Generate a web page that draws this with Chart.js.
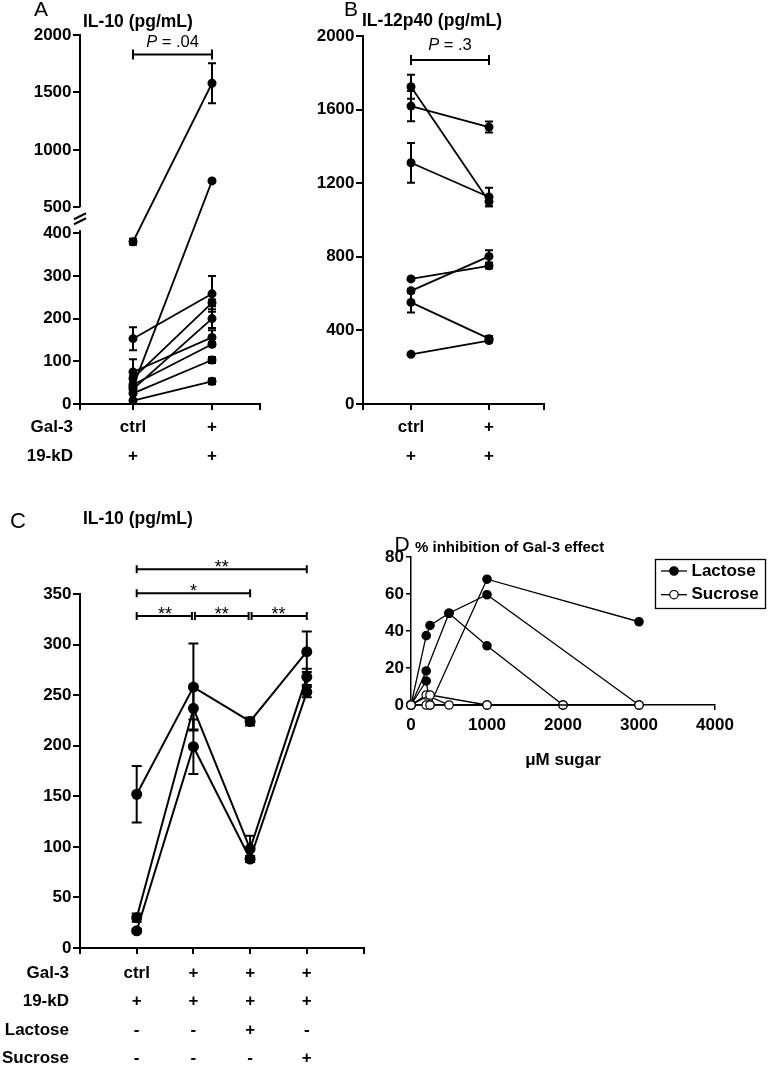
<!DOCTYPE html>
<html>
<head>
<meta charset="utf-8">
<script src="https://cdn.jsdelivr.net/npm/chart.js@4/dist/chart.umd.min.js"></script>
<style>
html, body { margin: 0; padding: 0; background: #fff; }
body { width: 772px; height: 1066px; position: relative; overflow: hidden; }
canvas { position: absolute; }
</style>
</head>
<body>
<canvas id="cA" width="300" height="480" style="left:0px;top:0px"></canvas>
<canvas id="cB" width="300" height="480" style="left:300px;top:0px"></canvas>
<canvas id="cC" width="390" height="576" style="left:0px;top:490px"></canvas>
<canvas id="cD" width="392" height="250" style="left:380px;top:530px"></canvas>
<script>
// ================= DATA =================
// Panel A: IL-10 (pg/mL), paired donors, ctrl vs Gal-3
const aPositions = [1, 2];
const aGal3Row = ['ctrl', '+'];
const a19kDRow = ['+', '+'];
const aRowNames = ['Gal-3', '19-kD'];
const aCtrl    = [380, 153, 40, 60, 35, 75, 45, 25, 8];
const aGal3    = [1580, 258, 730, 237, 200, 156, 140, 103, 53];
const aCtrlErr = [7, 27, 5, 5, 4, 30, 4, 4, 3];
const aGal3Err = [175, 42, 12, 8, 22, 17, 5, 7, 7];
const aYTicks  = [0, 100, 200, 300, 400, 500, 1000, 1500, 2000];
const aBreakLow = 400, aBreakHigh = 500;
const aPValue = '.04';

// Panel B: IL-12p40 (pg/mL)
const bPositions = [1, 2];
const bGal3Row = ['ctrl', '+'];
const b19kDRow = ['+', '+'];
const bCtrl    = [1724, 1619, 1311, 680, 615, 552, 270];
const bGal3    = [1100, 1505, 1125, 751, 802, 355, 345];
const bCtrlErr = [65, 82, 108, 8, 12, 55, 6];
const bGal3Err = [25, 30, 50, 15, 33, 15, 10];
const bYTicks  = [0, 400, 800, 1200, 1600, 2000];
const bPValue = '.3';

// Panel C: IL-10 (pg/mL), 4 conditions
const cPositions = [1, 2, 3, 4];
const cGal3Row    = ['ctrl', '+', '+', '+'];
const c19kDRow    = ['+', '+', '+', '+'];
const cLactoseRow = ['-', '-', '+', '-'];
const cSucroseRow = ['-', '-', '-', '+'];
const cRowNames = ['Gal-3', '19-kD', 'Lactose', 'Sucrose'];
const cCtrl    = [152, 30, 17];
const cGal3    = [258, 237, 199];
const cLactose = [224, 98, 88];
const cSucrose = [293, 268, 253];
const cCtrlErr    = [28, 4, 2];
const cGal3Err    = [43, 21, 27];
const cLactoseErr = [4, 13, 3];
const cSucroseErr = [20, 8, 5];
const cYTicks = [0, 50, 100, 150, 200, 250, 300, 350];
const cSigFrom = [1, 2, 3, 1, 1];
const cSigTo   = [2, 3, 4, 3, 4];
const cSigText = ['**', '**', '**', '*', '**'];
const cSigRow  = [0, 0, 0, 1, 2];

// Panel D: % inhibition of Gal-3 effect vs uM sugar
const dLac1X = [0, 200, 250, 500, 1000, 2000];
const dLac1Y = [0, 37.5, 43, 49.6, 32, 0];
const dLac2X = [0, 200, 500, 1000, 3000];
const dLac2Y = [0, 18.4, 49.6, 59.6, 0];
const dLac3X = [0, 200, 250, 1000, 3000];
const dLac3Y = [0, 13, 0, 68, 45];
const dSuc1X = [0, 250, 1000];
const dSuc1Y = [0, 5.4, 0];
const dSuc2X = [0, 200, 500, 3000];
const dSuc2Y = [0, 5.4, 0, 0];
const dSuc3X = [0, 200, 250, 1000, 2000];
const dSuc3Y = [0, 0, 0, 0, 0];
const dXTicks = [0, 1000, 2000, 3000, 4000];
const dYTicks = [0, 20, 40, 60, 80];
const dLegend = ['Lactose', 'Sucrose'];

// ================= HELPERS =================
const FONT = "'Liberation Sans', Arial, Helvetica, sans-serif";
Chart.defaults.font.family = FONT;
Chart.defaults.color = '#000';

// broken y scale for panel A (gap between 400 and 500)
const A_LOW_FRAC = (404 - 233.2) / 369;
const A_HIGH_FRAC = (404 - 207.3) / 369;
class BrokenLinearScale extends Chart.LinearScale {
  _dec(v) {
    if (v <= aBreakLow) return (v - this.min) / (aBreakLow - this.min) * A_LOW_FRAC;
    if (v >= aBreakHigh) return A_HIGH_FRAC + (v - aBreakHigh) / (this.max - aBreakHigh) * (1 - A_HIGH_FRAC);
    return A_LOW_FRAC + (v - aBreakLow) / (aBreakHigh - aBreakLow) * (A_HIGH_FRAC - A_LOW_FRAC);
  }
  getPixelForValue(v) {
    if (v === null || v === undefined || isNaN(v)) return NaN;
    return this.getPixelForDecimal(this._dec(v));
  }
  getValueForPixel(p) {
    const d = this.getDecimalForPixel(p);
    if (d <= A_LOW_FRAC) return this.min + d / A_LOW_FRAC * (aBreakLow - this.min);
    if (d >= A_HIGH_FRAC) return aBreakHigh + (d - A_HIGH_FRAC) / (1 - A_HIGH_FRAC) * (this.max - aBreakHigh);
    return aBreakLow + (d - A_LOW_FRAC) / (A_HIGH_FRAC - A_LOW_FRAC) * (aBreakHigh - aBreakLow);
  }
}
BrokenLinearScale.id = 'brokenLinear';
BrokenLinearScale.defaults = Chart.LinearScale.defaults;
Chart.register(BrokenLinearScale);

function tableLabels(rows) {
  return rows[0].map((_, j) => rows.map(r => r[j]));
}

function xAxis(min, max, positions, rows, o) {
  const labels = [''].concat(tableLabels(rows)).concat(['']);
  const vals = [min].concat(positions).concat([max]);
  return {
    type: 'linear', min: min, max: max,
    afterBuildTicks: s => { s.ticks = vals.map(v => ({ value: v })); },
    afterFit: s => { s.height = o.height; },
    ticks: {
      autoSkip: false, maxRotation: 0, minRotation: 0, padding: o.pad, color: '#000',
      font: { family: FONT, size: 17, weight: 'bold', lineHeight: o.lh + 'px' },
      callback: (v, i) => labels[i]
    },
    grid: { drawOnChartArea: false, drawTicks: true, tickLength: o.tl, color: '#000', lineWidth: 2 },
    border: { display: true, color: '#000', width: 2 }
  };
}

function yAxis(type, min, max, tickVals, width, tl, showBorder) {
  return {
    type: type, min: min, max: max,
    afterBuildTicks: s => { s.ticks = tickVals.map(v => ({ value: v })); },
    afterFit: s => { s.width = width; },
    ticks: { autoSkip: false, padding: 1.5, color: '#000',
      font: { family: FONT, size: 17, weight: 'bold' },
      callback: v => String(v) },
    grid: { drawOnChartArea: false, drawTicks: true, tickLength: tl, color: '#000', lineWidth: 2 },
    border: { display: showBorder, color: '#000', width: 2 }
  };
}

function errorBars(errs, capHalf, lw) {
  return {
    id: 'errorBars',
    beforeDatasetsDraw(chart) {
      const ctx = chart.ctx, ys = chart.scales.y;
      ctx.save();
      ctx.strokeStyle = '#000'; ctx.lineWidth = lw;
      chart.data.datasets.forEach((ds, i) => {
        const meta = chart.getDatasetMeta(i);
        ds.data.forEach((pt, j) => {
          const e = errs[i] ? errs[i][j] : 0;
          if (!e) return;
          const x = meta.data[j].x;
          const yt = ys.getPixelForValue(pt.y + e), yb = ys.getPixelForValue(pt.y - e);
          ctx.beginPath();
          ctx.moveTo(x, yt); ctx.lineTo(x, yb);
          ctx.moveTo(x - capHalf, yt); ctx.lineTo(x + capHalf, yt);
          ctx.moveTo(x - capHalf, yb); ctx.lineTo(x + capHalf, yb);
          ctx.stroke();
        });
      });
      ctx.restore();
    }
  };
}

function annotations(fn) {
  return { id: 'annotations', afterDraw(chart) { const c = chart.ctx; c.save(); fn(chart, c); c.restore(); } };
}

function txt(ctx, s, x, y, size, weight, align, style) {
  ctx.font = (style || 'normal') + ' ' + (weight || 'normal') + ' ' + size + 'px ' + FONT;
  ctx.fillStyle = '#000';
  ctx.textAlign = align || 'left';
  ctx.textBaseline = 'middle';
  ctx.fillText(s, x, y);
}

function bracket(ctx, x1, x2, y, h, lw) {
  ctx.strokeStyle = '#000'; ctx.lineWidth = lw;
  ctx.beginPath();
  ctx.moveTo(x1, y); ctx.lineTo(x2, y);
  ctx.moveTo(x1, y - h); ctx.lineTo(x1, y + h);
  ctx.moveTo(x2, y - h); ctx.lineTo(x2, y + h);
  ctx.stroke();
}

function pText(ctx, value, cx, y) {
  const size = 16.5;
  ctx.font = 'italic normal ' + size + 'px ' + FONT;
  const w1 = ctx.measureText('P').width;
  const rest = ' = ' + value;
  ctx.font = 'normal normal ' + size + 'px ' + FONT;
  const w2 = ctx.measureText(rest).width;
  const x0 = cx - (w1 + w2) / 2;
  txt(ctx, 'P', x0, y, size, 'normal', 'left', 'italic');
  txt(ctx, rest, x0 + w1, y, size, 'normal', 'left', 'normal');
}

function rowLabels(ctx, xs, names, xRight, tl, pad, lh) {
  names.forEach((n, i) => {
    txt(ctx, n, xRight, xs.top + tl + pad + lh * (i + 0.5), 17, 'bold', 'right');
  });
}

const common = {
  responsive: false, animation: false, devicePixelRatio: 1, events: [],
  plugins: { legend: { display: false }, tooltip: { enabled: false }, title: { display: false } }
};

function pairLine(pts, r, lw) {
  return { data: pts, borderColor: '#000', borderWidth: lw, pointRadius: r,
    pointBackgroundColor: '#000', pointBorderColor: '#000', pointBorderWidth: 0,
    tension: 0, clip: false, fill: false };
}

// ================= PANEL A =================
const A_XMIN = 1 - 53 / 79, A_XMAX = 2 + 48 / 79;
new Chart(document.getElementById('cA'), {
  type: 'line',
  data: { datasets: aCtrl.map((v, i) => pairLine([{ x: aPositions[0], y: v }, { x: aPositions[1], y: aGal3[i] }], 4.5, 1.8)) },
  options: Object.assign({}, common, {
    layout: { padding: { top: 35, right: 40, bottom: 0, left: 0 }, autoPadding: false },
    scales: {
      x: xAxis(A_XMIN, A_XMAX, aPositions, [aGal3Row, a19kDRow], { height: 76, pad: 2.5, lh: 29, tl: 6 }),
      y: yAxis('brokenLinear', 0, 2000, aYTicks, 80, 7, false)
    }
  }),
  plugins: [
    errorBars(aCtrl.map((v, i) => [aCtrlErr[i], aGal3Err[i]]), 4, 2),
    annotations((chart, ctx) => {
      const ys = chart.scales.y, xs = chart.scales.x, L = chart.chartArea.left;
      ctx.strokeStyle = '#000'; ctx.lineWidth = 2;
      ctx.beginPath();
      ctx.moveTo(L, ys.getPixelForValue(0) + 1); ctx.lineTo(L, ys.getPixelForValue(aBreakLow) - 3);
      ctx.moveTo(L, ys.getPixelForValue(aBreakHigh)); ctx.lineTo(L, ys.getPixelForValue(2000) - 1);
      ctx.stroke();
      const yb = (ys.getPixelForValue(aBreakLow) + ys.getPixelForValue(aBreakHigh)) / 2;
      ctx.lineWidth = 2;
      ctx.beginPath();
      ctx.moveTo(L - 6, yb - 1); ctx.lineTo(L + 6, yb - 7);
      ctx.moveTo(L - 6, yb + 4); ctx.lineTo(L + 6, yb - 2);
      ctx.stroke();
      txt(ctx, 'A', 41, 10, 21, 'normal', 'center');
      txt(ctx, 'IL-10 (pg/mL)', 83, 22, 17.5, 'bold', 'left');
      const x1 = xs.getPixelForValue(aPositions[0]), x2 = xs.getPixelForValue(aPositions[1]);
      bracket(ctx, x1, x2, 54.5, 5, 2);
      pText(ctx, aPValue, (x1 + x2) / 2, 42.5);
      rowLabels(ctx, xs, aRowNames, 73, 6, 2.5, 29);
    })
  ]
});

// ================= PANEL B =================
const B_XMIN = 1 - 48 / 78, B_XMAX = 2 + 55 / 78;
new Chart(document.getElementById('cB'), {
  type: 'line',
  data: { datasets: bCtrl.map((v, i) => pairLine([{ x: bPositions[0], y: v }, { x: bPositions[1], y: bGal3[i] }], 4.5, 1.8)) },
  options: Object.assign({}, common, {
    layout: { padding: { top: 36, right: 56, bottom: 0, left: 0 }, autoPadding: false },
    scales: {
      x: xAxis(B_XMIN, B_XMAX, bPositions, [bGal3Row, b19kDRow], { height: 76, pad: 2.5, lh: 29, tl: 6 }),
      y: yAxis('linear', 0, 2000, bYTicks, 63, 7, true)
    }
  }),
  plugins: [
    errorBars(bCtrl.map((v, i) => [bCtrlErr[i], bGal3Err[i]]), 4, 2),
    annotations((chart, ctx) => {
      const xs = chart.scales.x;
      txt(ctx, 'B', 51, 10, 21, 'normal', 'center');
      txt(ctx, 'IL-12p40 (pg/mL)', 62, 21, 17.5, 'bold', 'left');
      const x1 = xs.getPixelForValue(bPositions[0]), x2 = xs.getPixelForValue(bPositions[1]);
      bracket(ctx, x1, x2, 60, 5, 2);
      pText(ctx, bPValue, (x1 + x2) / 2, 45.5);
    })
  ]
});

// ================= PANEL C =================
new Chart(document.getElementById('cC'), {
  type: 'line',
  data: { datasets: cCtrl.map((v, i) => pairLine([
    { x: cPositions[0], y: v }, { x: cPositions[1], y: cGal3[i] },
    { x: cPositions[2], y: cLactose[i] }, { x: cPositions[3], y: cSucrose[i] }], 5.5, 2)) },
  options: Object.assign({}, common, {
    layout: { padding: { top: 104, right: 26.5, bottom: 0, left: 0 }, autoPadding: false },
    scales: {
      x: xAxis(0, 5, cPositions, [cGal3Row, c19kDRow, cLactoseRow, cSucroseRow], { height: 118, pad: 4.7, lh: 28.6, tl: 6 }),
      y: yAxis('linear', 0, 350, cYTicks, 80, 7, true)
    }
  }),
  plugins: [
    errorBars(cCtrl.map((v, i) => [cCtrlErr[i], cGal3Err[i], cLactoseErr[i], cSucroseErr[i]]), 5, 2),
    annotations((chart, ctx) => {
      const xs = chart.scales.x;
      txt(ctx, 'C', 18, 32, 22, 'normal', 'center');
      txt(ctx, 'IL-10 (pg/mL)', 83, 29, 17.5, 'bold', 'left');
      const rowY = [126, 103.3, 79.3];
      cSigFrom.forEach((f, k) => {
        const x1 = xs.getPixelForValue(f), x2 = xs.getPixelForValue(cSigTo[k]);
        const inset = cSigRow[k] === 0 ? 1.5 : 0;
        const y = rowY[cSigRow[k]];
        bracket(ctx, x1 + (f === 1 ? 0 : inset), x2 - (cSigTo[k] === 4 ? 0 : inset), y, 4, 2);
        ctx.font = 'normal normal 18px ' + FONT;
        ctx.textAlign = 'center'; ctx.textBaseline = 'alphabetic'; ctx.fillStyle = '#000';
        ctx.fillText(cSigText[k], (x1 + x2) / 2, y + 4);
      });
      rowLabels(ctx, xs, cRowNames, 69, 6, 4.7, 28.6);
    })
  ]
});

// ================= PANEL D =================
function xyPts(xs, ys) { return xs.map((x, i) => ({ x: x, y: ys[i] })); }
function dLine(pts, open) {
  return { data: pts, borderColor: '#000', borderWidth: 1.3, pointRadius: 4.2,
    pointBackgroundColor: open ? '#fff' : '#000', pointBorderColor: '#000', pointBorderWidth: 1.2,
    tension: 0, clip: false, fill: false };
}
new Chart(document.getElementById('cD'), {
  type: 'line',
  data: { datasets: [
    dLine(xyPts(dSuc1X, dSuc1Y), true),
    dLine(xyPts(dSuc2X, dSuc2Y), true),
    dLine(xyPts(dSuc3X, dSuc3Y), true),
    dLine(xyPts(dLac1X, dLac1Y), false),
    dLine(xyPts(dLac2X, dLac2Y), false),
    dLine(xyPts(dLac3X, dLac3Y), false)
  ] },
  options: Object.assign({}, common, {
    layout: { padding: { top: 27, right: 57, bottom: 0, left: 0 }, autoPadding: false },
    scales: {
      x: {
        type: 'linear', min: 0, max: 4000,
        afterBuildTicks: s => { s.ticks = dXTicks.map(v => ({ value: v })); },
        afterFit: s => { s.height = 75; },
        ticks: { autoSkip: false, maxRotation: 0, padding: 5, color: '#000',
          font: { family: FONT, size: 17, weight: 'bold' }, callback: v => String(v) },
        grid: { drawOnChartArea: false, drawTicks: true, tickLength: 5, color: '#000', lineWidth: 1.5 },
        border: { display: true, color: '#000', width: 1.5 }
      },
      y: {
        type: 'linear', min: 0, max: 80,
        afterBuildTicks: s => { s.ticks = dYTicks.map(v => ({ value: v })); },
        afterFit: s => { s.width = 31; },
        ticks: { autoSkip: false, padding: 2, color: '#000',
          font: { family: FONT, size: 17, weight: 'bold' }, callback: v => String(v) },
        grid: { drawOnChartArea: false, drawTicks: true, tickLength: 5, color: '#000', lineWidth: 1.5 },
        border: { display: true, color: '#000', width: 1.5 }
      }
    }
  }),
  plugins: [
    annotations((chart, ctx) => {
      const ca = chart.chartArea;
      txt(ctx, 'D', 22, 15, 21, 'normal', 'center');
      txt(ctx, '% inhibition of Gal-3 effect', 35, 18, 15, 'bold', 'left');
      txt(ctx, '\u03bcM sugar', (ca.left + ca.right) / 2, 230, 17, 'bold', 'center');
      // legend
      ctx.strokeStyle = '#000'; ctx.lineWidth = 1.3;
      ctx.strokeRect(275.5, 29.5, 110, 49);
      const ly = [41, 64.7];
      dLegend.forEach((name, i) => {
        ctx.strokeStyle = '#000'; ctx.lineWidth = 1.3;
        ctx.beginPath(); ctx.moveTo(281, ly[i]); ctx.lineTo(307, ly[i]); ctx.stroke();
        ctx.beginPath(); ctx.arc(294, ly[i], 4.2, 0, Math.PI * 2);
        ctx.fillStyle = i === 0 ? '#000' : '#fff'; ctx.fill();
        ctx.lineWidth = 1.2; ctx.stroke();
        txt(ctx, name, 311.5, ly[i], 17, 'bold', 'left');
      });
    })
  ]
});
</script>
</body>
</html>
